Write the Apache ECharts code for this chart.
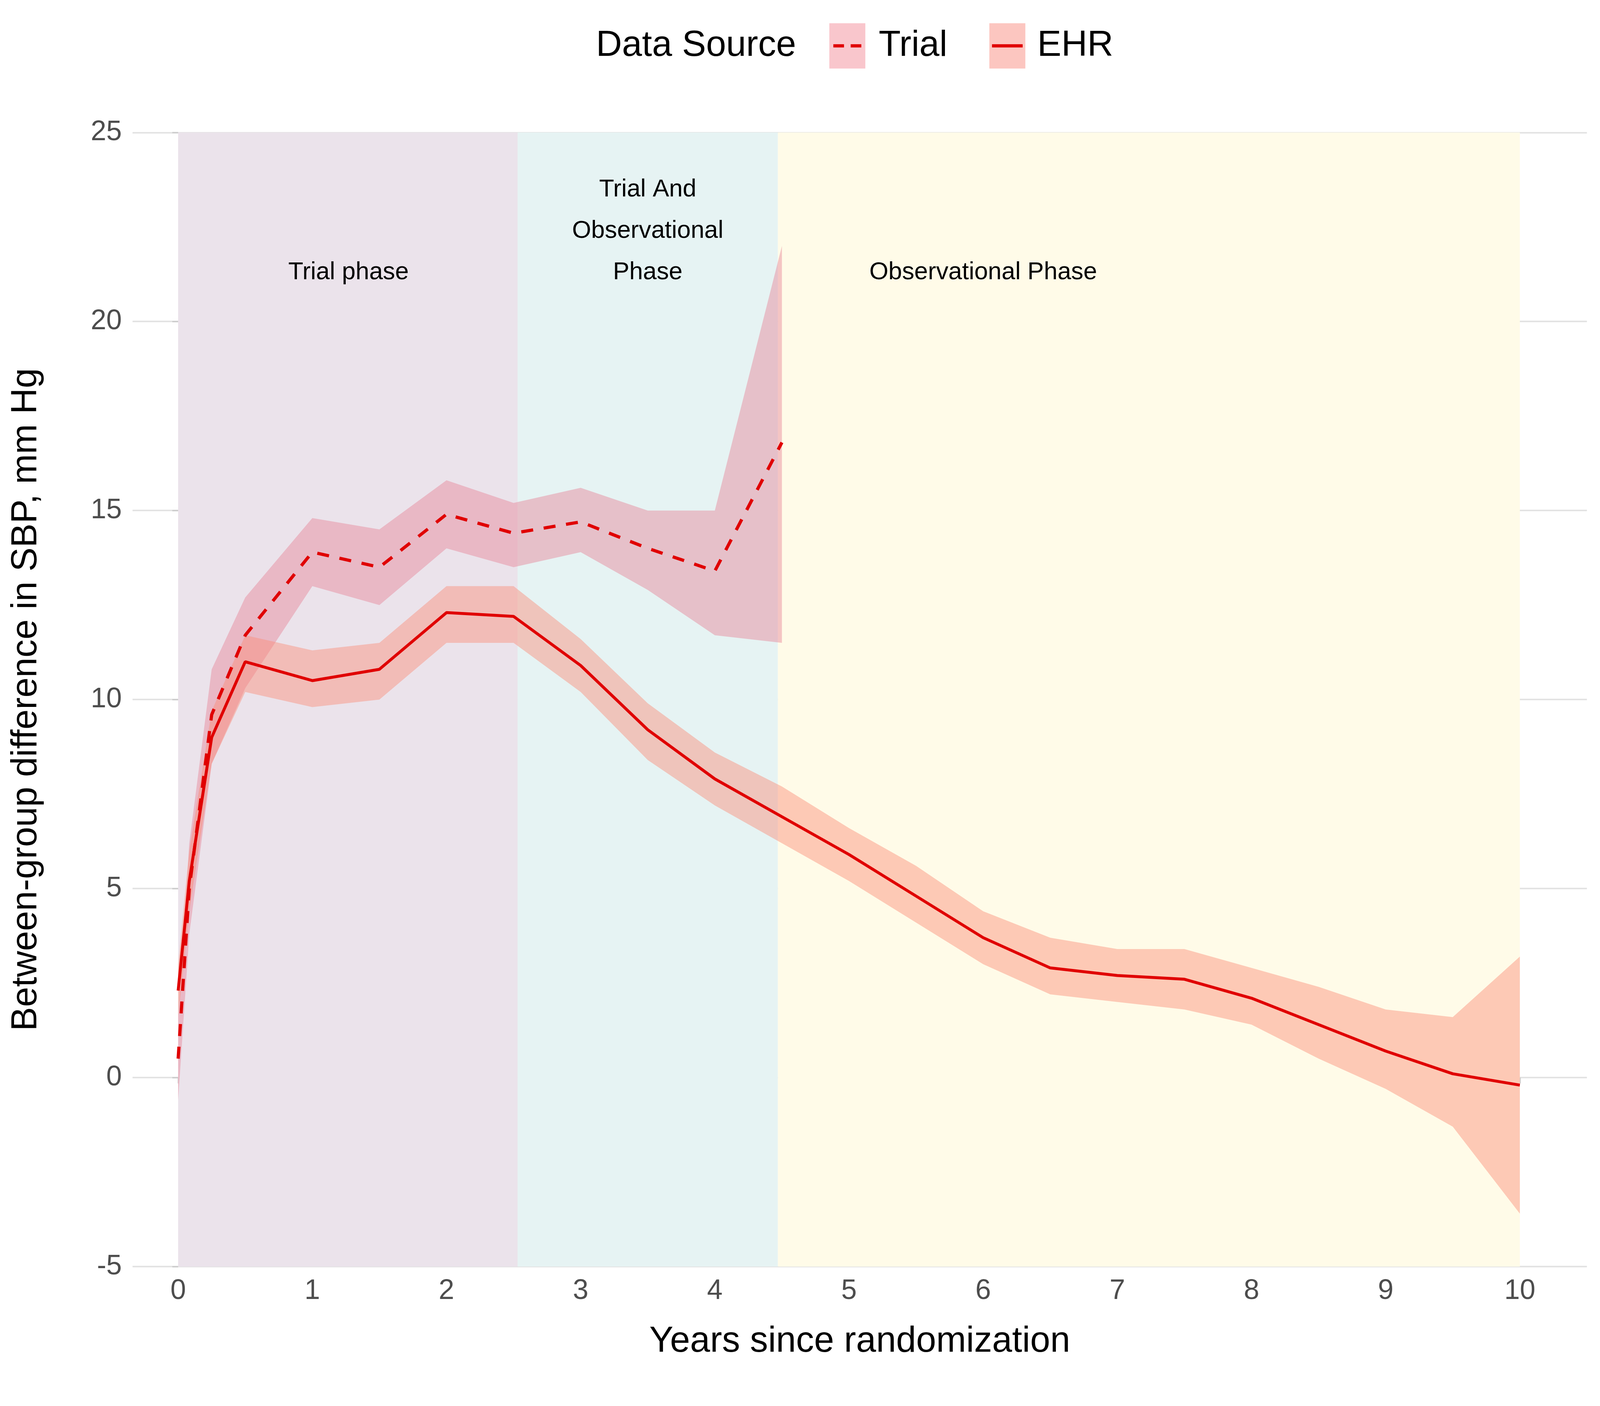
<!DOCTYPE html>
<html>
<head>
<meta charset="utf-8">
<script src="https://cdn.jsdelivr.net/npm/echarts@6/dist/echarts.min.js"></script>
<style>html,body{margin:0;padding:0;background:#fff;overflow:hidden}#chart{width:100vw;height:100vh}</style>
</head>
<body>
<div id="chart"></div>
<script>
// Trial data
var trialX = [0, 0.083, 0.25, 0.5, 1, 1.5, 2, 2.5, 3, 3.5, 4, 4.5];
var trialY = [0.5, 5.0, 9.6, 11.7, 13.9, 13.5, 14.9, 14.4, 14.7, 14.0, 13.4, 16.8];
var trialLo = [-0.6, 3.8, 8.3, 10.3, 13.0, 12.5, 14.0, 13.5, 13.9, 12.9, 11.7, 11.5];
var trialHi = [1.6, 6.2, 10.8, 12.7, 14.8, 14.5, 15.8, 15.2, 15.6, 15.0, 15.0, 22.0];

// EHR data
var ehrX = [0, 0.083, 0.25, 0.5, 1, 1.5, 2, 2.5, 3, 3.5, 4, 4.5, 5, 5.5, 6, 6.5, 7, 7.5, 8, 8.5, 9, 9.5, 10];
var ehrY = [2.3, 5.2, 9.0, 11.0, 10.5, 10.8, 12.3, 12.2, 10.9, 9.2, 7.9, 6.9, 5.9, 4.8, 3.7, 2.9, 2.7, 2.6, 2.1, 1.4, 0.7, 0.1, -0.2];
var ehrLo = [1.6, 4.4, 8.3, 10.2, 9.8, 10.0, 11.5, 11.5, 10.2, 8.4, 7.2, 6.2, 5.2, 4.1, 3.0, 2.2, 2.0, 1.8, 1.4, 0.5, -0.3, -1.3, -3.6];
var ehrHi = [3.0, 6.0, 9.7, 11.7, 11.3, 11.5, 13.0, 13.0, 11.6, 9.9, 8.6, 7.7, 6.6, 5.6, 4.4, 3.7, 3.4, 3.4, 2.9, 2.4, 1.8, 1.6, 3.2];

// phases
var phaseNames = ['Trial phase', 'Trial And\nObservational\nPhase', 'Observational Phase'];
var phaseStart = [0, 2.53, 4.47];
var phaseEnd = [2.53, 4.47, 10];
var phaseColors = ['#ebe3eb', '#e6f3f3', '#fffbe8'];
var phaseLabelX = [1.27, 3.5, 6.0];
var phaseLabelY = [21.3, 21.3, 21.3];

var xTicks = [0, 1, 2, 3, 4, 5, 6, 7, 8, 9, 10];

var el = document.getElementById('chart');
var s = el.clientWidth / 6000;   // all sizes are given for a 6000 px wide page

function pairs(xs, ys) {
  return xs.map(function(x, i) { return [x, ys[i]]; });
}

function bandSeries(xs, lo, hi, color) {
  var data = xs.map(function(x, i) { return [x, lo[i], hi[i]]; });
  return {
    type: 'custom',
    z: 3,
    silent: true,
    data: data,
    renderItem: function(params, api) {
      if (params.dataIndex !== 0) return;
      var top = [], bot = [];
      for (var i = 0; i < data.length; i++) {
        top.push(api.coord([data[i][0], data[i][2]]));
        bot.unshift(api.coord([data[i][0], data[i][1]]));
      }
      return {type: 'polygon', shape: {points: top.concat(bot)}, style: {fill: color}};
    }
  };
}

var markAreaData = phaseStart.map(function(st, i) {
  return [{xAxis: st, yAxis: -5, itemStyle: {color: phaseColors[i]}}, {xAxis: phaseEnd[i], yAxis: 25}];
});

var chart = echarts.init(el);
var axisFont = {fontFamily: 'Liberation Sans', fontSize: 105 * s, color: '#4d4d4d'};
var tickStyle = {show: true, length: 22 * s, lineStyle: {color: '#cccccc', width: 5 * s}};

chart.setOption({
  animation: false,
  grid: {left: 497 * s, right: 49 * s, top: 497 * s, bottom: 523 * s},
  xAxis: {
    type: 'value', min: -0.34, max: 10.5,
    name: 'Years since randomization', nameLocation: 'middle', nameGap: 215 * s,
    nameTextStyle: {fontFamily: 'Liberation Sans', fontSize: 135 * s, color: '#000'},
    axisLine: {show: false},
    splitLine: {show: false},
    axisLabel: Object.assign({margin: 40 * s, customValues: xTicks}, axisFont),
    axisTick: Object.assign({customValues: xTicks}, tickStyle)
  },
  yAxis: {
    type: 'value', min: -5, max: 25, interval: 5,
    name: 'Between-group difference in SBP, mm Hg', nameLocation: 'middle', nameGap: 330 * s,
    nameTextStyle: {fontFamily: 'Liberation Sans', fontSize: 135 * s, color: '#000'},
    axisLine: {show: false},
    axisTick: tickStyle,
    splitLine: {lineStyle: {color: '#e3e3e3', width: 6 * s}},
    axisLabel: Object.assign({margin: 40 * s}, axisFont)
  },
  series: [
    {type: 'line', data: [], z: 1, markArea: {silent: true, data: markAreaData}},
    bandSeries(trialX, trialLo, trialHi, 'rgba(230,130,150,0.45)'),
    bandSeries(ehrX, ehrLo, ehrHi, 'rgba(250,140,120,0.45)'),
    {type: 'line', data: pairs(trialX, trialY), z: 5, symbol: 'none',
     lineStyle: {color: '#e00000', width: 12 * s, type: [45 * s, 40 * s]}},
    {type: 'line', data: pairs(ehrX, ehrY), z: 5, symbol: 'none',
     lineStyle: {color: '#e00000', width: 11 * s}}
  ]
});

// phase labels and legend
var graphics = phaseNames.map(function(n, i) {
  var p = chart.convertToPixel({gridIndex: 0}, [phaseLabelX[i], phaseLabelY[i]]);
  var lines = n.split('\n').length;
  return {type: 'text', z: 10, x: p[0], y: p[1] - (lines - 1) * 155 * s / 2,
    style: {text: n, fill: '#000', font: (92 * s) + 'px "Liberation Sans"', align: 'center', verticalAlign: 'middle', lineHeight: 155 * s}};
});
var ly = 172 * s;
var big = (135 * s) + 'px "Liberation Sans"';
graphics.push(
  {type: 'text', x: 2235 * s, y: ly, style: {text: 'Data Source', fill: '#000', font: big, verticalAlign: 'middle'}},
  {type: 'rect', shape: {x: 3110 * s, y: ly - 85 * s, width: 135 * s, height: 170 * s}, style: {fill: 'rgba(245,160,170,0.6)'}},
  {type: 'line', shape: {x1: 3125 * s, y1: ly, x2: 3230 * s, y2: ly}, style: {stroke: '#e00000', lineWidth: 12 * s, lineDash: [40 * s, 25 * s]}},
  {type: 'text', x: 3295 * s, y: ly, style: {text: 'Trial', fill: '#000', font: big, verticalAlign: 'middle'}},
  {type: 'rect', shape: {x: 3710 * s, y: ly - 85 * s, width: 135 * s, height: 170 * s}, style: {fill: 'rgba(250,160,150,0.6)'}},
  {type: 'line', shape: {x1: 3720 * s, y1: ly, x2: 3835 * s, y2: ly}, style: {stroke: '#e00000', lineWidth: 12 * s}},
  {type: 'text', x: 3890 * s, y: ly, style: {text: 'EHR', fill: '#000', font: big, verticalAlign: 'middle'}}
);
chart.setOption({graphic: graphics});
</script>
</body>
</html>
